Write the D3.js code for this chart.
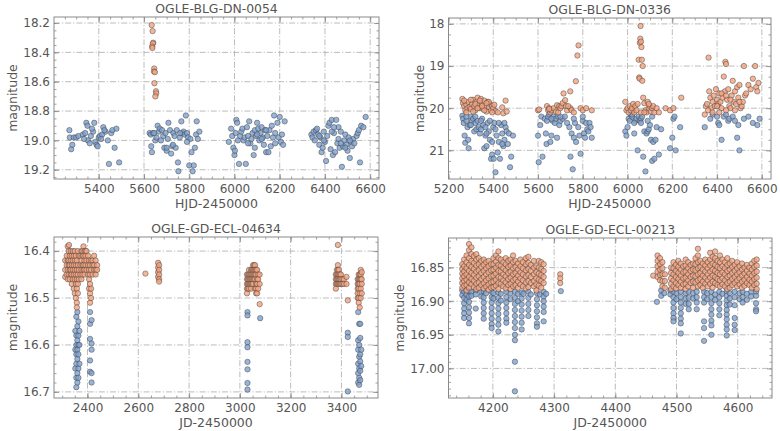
<!DOCTYPE html>
<html><head><meta charset="utf-8">
<script src="https://cdn.jsdelivr.net/npm/d3@7"></script>
<style>body{margin:0;background:#fff}svg{display:block}</style>
</head><body>
<svg id="c" width="780" height="431"></svg>
<script>
// ---------------- DATA ----------------
const titles = ["OGLE-BLG-DN-0054","OGLE-BLG-DN-0336","OGLE-GD-ECL-04634","OGLE-GD-ECL-00213"];
const xLabels = ["HJD-2450000","HJD-2450000","JD-2450000","JD-2450000"];
const yLabel = "magnitude";

const xTicks1 = [5400,5600,5800,6000,6200,6400,6600];
const yTicks1 = [18.2,18.4,18.6,18.8,19.0,19.2];
const xTicks2 = [5200,5400,5600,5800,6000,6200,6400,6600];
const yTicks2 = [18,19,20,21];
const xTicks3 = [2400,2600,2800,3000,3200,3400];
const yTicks3 = [16.4,16.5,16.6,16.7];
const xTicks4 = [4200,4300,4400,4500,4600];
const yTicks4 = [16.85,16.90,16.95,17.00];

const xDom1=[5202,6639], yDom1=[18.159,19.263];
const xDom2=[5200,6641], yDom2=[17.86,21.68];
const xDom3=[2268,3544], yDom3=[16.370,16.713];
const xDom4=[4127.5,4656], yDom4=[16.806,17.044];

// Panel 1 (OGLE-BLG-DN-0054)
const p1Orange = [[5634,18.214],[5638,18.255],[5641,18.334],[5639,18.34],[5636,18.36],[5637,18.37],[5645,18.51],[5644,18.53],[5648,18.535],[5646,18.61],[5653,18.665],[5654,18.68],[5650,18.70]];
const p1Blue = [
[5270,18.93],[5272,18.98],[5278,19.06],[5283,19.03],[5290,18.98],[5300,18.98],[5310,18.97],[5330,18.96],[5340,18.95],[5345,18.88],[5350,18.90],[5352,19.00],[5360,19.02],[5365,18.97],[5375,18.94],[5380,18.88],[5385,19.01],[5390,19.03],[5395,19.04],[5400,18.98],[5405,18.97],[5415,18.96],[5420,18.91],[5430,18.94],[5440,19.00],[5445,19.16],[5455,18.95],[5460,18.93],[5470,19.05],[5478,18.92],[5490,19.15],[5335,18.99],[5370,18.92],[5410,18.99],[5425,18.93],
[5625,18.95],[5630,18.96],[5632,19.04],[5635,19.08],[5640,18.95],[5650,19.00],[5655,18.98],[5660,18.90],[5665,18.94],[5670,18.92],[5675,19.00],[5680,18.93],[5685,18.97],[5690,19.05],[5695,18.95],[5700,19.07],[5705,18.99],[5708,18.88],[5715,18.93],[5720,19.09],[5725,19.04],[5730,18.95],[5735,18.97],[5740,19.05],[5745,18.93],[5750,19.15],[5752,19.21],[5758,18.98],[5765,18.87],[5770,18.95],[5775,18.94],[5780,18.96],[5785,18.83],[5790,18.95],[5795,18.98],[5800,19.17],[5805,18.99],[5810,19.08],[5815,19.21],[5820,19.17],[5825,19.05],[5830,18.96],[5833,18.87],[5838,18.99],[5845,18.94],[5700,19.05],[5728,19.03],[5760,18.95],[5790,19.01],[5645,18.95],
[5975,19.01],[5985,18.92],[5990,18.97],[5995,19.05],[6000,19.10],[6002,19.07],[6005,18.95],[6008,18.86],[6012,18.88],[6015,19.00],[6020,19.16],[6025,18.97],[6030,18.94],[6035,18.92],[6040,19.00],[6045,18.98],[6050,19.16],[6055,18.91],[6060,18.97],[6065,18.87],[6070,19.02],[6075,18.99],[6080,18.95],[6085,19.10],[6090,18.93],[6095,18.97],[6100,18.88],[6105,18.92],[6110,19.00],[6115,18.95],[6120,18.91],[6125,18.98],[6130,19.03],[6135,18.93],[6140,19.08],[6145,18.97],[6150,19.08],[6155,18.93],[6160,19.04],[6165,18.90],[6170,18.98],[6175,18.83],[6180,18.95],[6190,18.88],[6195,18.98],[6200,18.84],[6205,19.01],[6210,18.96],[6215,19.03],[6222,18.87],[6060,19.02],[6090,19.05],[6120,18.99],[6180,19.02],[6100,18.96],[6140,18.93],
[6340,18.96],[6345,18.98],[6350,18.94],[6355,19.00],[6360,18.93],[6365,18.92],[6370,18.96],[6375,19.03],[6380,18.98],[6385,19.08],[6390,19.05],[6395,18.94],[6400,19.01],[6405,19.14],[6410,18.97],[6415,18.90],[6420,18.88],[6425,19.06],[6430,18.86],[6435,19.10],[6440,18.95],[6445,19.08],[6450,18.86],[6455,19.02],[6460,18.91],[6465,19.05],[6470,18.94],[6475,19.18],[6480,19.04],[6485,19.00],[6490,18.96],[6495,19.03],[6500,19.07],[6505,18.98],[6510,19.12],[6515,19.01],[6520,19.04],[6525,18.99],[6530,19.02],[6540,18.97],[6545,18.95],[6550,18.93],[6555,19.15],[6560,18.90],[6570,18.91],[6580,18.84],[6375,18.97],[6395,19.00],[6430,18.94],[6460,18.99],[6490,19.05],[6510,19.00],[6440,18.91],[6470,19.02]];

// Panel 2 (OGLE-BLG-DN-0336)
const p2Orange = [
[5262,19.78],[5265,19.88],[5270,19.95],[5275,20.05],[5280,19.92],[5285,20.0],[5290,19.85],[5295,19.97],[5300,20.02],[5305,19.9],[5310,19.8],[5315,19.95],[5320,20.05],[5325,19.85],[5330,19.75],[5335,19.92],[5340,20.0],[5345,19.78],[5350,19.88],[5355,20.02],[5360,19.82],[5365,19.95],[5370,20.08],[5375,19.85],[5380,19.97],[5385,19.9],[5390,20.05],[5395,19.95],[5400,20.0],[5405,19.92],[5410,20.07],[5420,20.1],[5440,19.98],[5445,20.12],[5455,19.82],[5460,20.08],[5300,19.8],[5320,19.9],[5340,19.82],[5360,20.05],[5380,19.85],[5280,20.1],[5270,19.82],[5330,20.0],[5350,19.95],[5370,19.88],[5395,20.1],[5310,20.08],
[5600,20.05],[5605,20.03],[5640,19.95],[5645,20.05],[5650,20.0],[5655,20.1],[5660,20.05],[5670,20.0],[5680,20.08],[5685,19.93],[5690,20.1],[5695,19.95],[5700,20.0],[5705,19.95],[5710,19.88],[5714,19.65],[5721,19.81],[5725,19.95],[5730,20.05],[5744,19.6],[5745,20.0],[5750,20.05],[5769,19.36],[5776,18.75],[5781,18.51],[5790,20.0],[5800,20.05],[5815,20.0],[5840,20.05],[5650,20.02],[5735,19.95],[5760,20.1],
[5990,19.85],[5995,20.05],[6000,20.0],[6005,20.1],[6010,19.95],[6015,20.05],[6020,20.0],[6025,19.9],[6030,20.1],[6035,19.95],[6040,20.05],[6045,19.9],[6050,18.85],[6052,19.27],[6054,19.3],[6055,18.45],[6057,18.35],[6058,18.05],[6060,18.42],[6062,18.55],[6064,18.85],[6066,19.35],[6068,19.0],[6070,19.75],[6075,19.88],[6080,20.05],[6085,20.1],[6090,19.85],[6095,20.0],[6100,19.95],[6105,20.08],[6110,20.0],[6115,19.95],[6120,20.1],[6130,20.0],[6140,20.1],[6170,20.0],[6190,20.05],[6205,20.0],[6240,19.75],[6060,20.1],[6075,20.1],[6095,19.9],
[6345,20.15],[6350,19.95],[6355,19.9],[6362,18.8],[6365,19.6],[6370,19.75],[6375,20.0],[6380,19.85],[6385,19.7],[6390,19.95],[6395,19.55],[6400,19.8],[6405,19.9],[6410,19.65],[6415,19.85],[6420,20.0],[6425,19.75],[6430,19.25],[6435,19.6],[6437,18.9],[6440,18.95],[6445,19.8],[6450,19.55],[6455,19.95],[6460,20.0],[6465,19.7],[6470,19.35],[6475,19.85],[6480,19.6],[6485,19.9],[6490,19.5],[6495,19.75],[6500,19.45],[6505,20.0],[6510,19.95],[6515,19.85],[6520,19.0],[6525,19.7],[6530,19.65],[6540,19.45],[6550,19.55],[6560,19.3],[6570,19.0],[6575,19.5],[6580,19.6],[6585,19.4],[6360,20.05],[6380,20.1],[6400,19.95],[6420,19.65],[6440,20.05],[6460,19.8],[6480,20.05],[6500,19.85],[6440,19.7],[6410,20.1]];
const p2Blue = [
[5262,20.18],[5265,20.25],[5268,20.35],[5272,20.65],[5275,20.82],[5280,20.3],[5285,20.45],[5288,20.75],[5290,20.95],[5295,20.4],[5300,20.2],[5305,20.3],[5310,20.25],[5315,20.55],[5320,20.35],[5325,20.5],[5330,20.3],[5335,20.45],[5340,20.6],[5345,20.5],[5350,20.25],[5355,20.4],[5360,20.95],[5365,20.65],[5370,20.9],[5375,20.35],[5380,20.55],[5385,20.75],[5390,21.2],[5395,21.1],[5400,20.45],[5402,21.2],[5405,20.35],[5410,21.52],[5415,20.65],[5420,21.05],[5425,20.8],[5430,21.2],[5435,20.4],[5440,20.6],[5445,20.9],[5450,20.75],[5455,20.45],[5460,20.55],[5465,20.85],[5470,20.6],[5475,21.4],[5480,21.15],[5488,20.65],[5280,20.2],[5300,20.4],[5320,20.2],[5345,20.3],[5365,20.45],[5385,20.3],[5410,20.5],[5425,20.35],[5440,20.85],[5450,20.35],[5395,20.8],[5370,20.6],
[5600,20.65],[5603,21.28],[5610,20.4],[5615,20.2],[5620,21.15],[5630,20.25],[5635,20.6],[5638,20.85],[5640,20.3],[5645,20.2],[5650,20.15],[5655,20.8],[5660,20.65],[5665,20.3],[5670,20.2],[5675,20.35],[5680,20.25],[5685,20.7],[5690,20.2],[5695,20.4],[5700,20.3],[5710,20.25],[5720,20.2],[5730,20.35],[5740,20.45],[5745,21.15],[5750,20.6],[5755,21.45],[5760,20.7],[5765,20.35],[5770,20.8],[5780,20.45],[5785,20.65],[5790,21.08],[5800,20.3],[5805,20.6],[5810,20.7],[5815,20.35],[5820,20.5],[5825,20.55],[5830,20.35],[5835,20.45],[5840,20.7],[5660,20.25],[5700,20.2],[5760,20.25],[5800,20.2],
[5990,20.55],[5995,20.65],[6000,20.45],[6005,20.25],[6010,20.3],[6015,20.15],[6020,20.2],[6025,20.05],[6030,20.6],[6035,20.3],[6040,20.25],[6045,21.0],[6050,20.2],[6055,20.3],[6060,20.25],[6065,20.2],[6070,21.15],[6075,20.55],[6080,21.5],[6085,20.6],[6090,20.55],[6095,20.5],[6100,20.4],[6105,20.75],[6110,21.25],[6115,20.8],[6120,21.2],[6125,20.75],[6130,20.45],[6140,21.1],[6150,20.5],[6190,20.95],[6200,20.7],[6205,20.25],[6210,20.2],[6215,21.0],[6235,20.45],[6030,20.35],[6060,20.35],[6090,20.3],[6110,20.2],[6020,20.15],
[6345,20.45],[6370,20.25],[6380,20.15],[6400,20.2],[6405,20.35],[6410,20.4],[6420,20.75],[6430,20.2],[6440,20.15],[6450,20.3],[6455,20.25],[6470,20.2],[6480,20.3],[6490,20.7],[6495,20.4],[6500,21.0],[6520,20.25],[6540,20.2],[6560,20.35],[6580,20.4],[6590,20.25]];

// Panel 3 (OGLE-GD-ECL-04634): nightly columns [JD, [magnitudes]]
const p3Orange = [
[2312,[16.42,16.44,16.455]],[2318,[16.41,16.43,16.45]],[2322,[16.39,16.42,16.44,16.46]],[2326,[16.40,16.42,16.43,16.45]],[2327,[16.387]],
[2330,[16.41,16.43,16.44,16.46]],[2334,[16.40,16.42,16.44,16.45]],[2338,[16.41,16.43,16.45,16.47]],[2342,[16.40,16.42,16.44,16.46]],
[2346,[16.41,16.43,16.45,16.48]],[2350,[16.40,16.42,16.44,16.46,16.49]],[2354,[16.41,16.43,16.45,16.47,16.50]],
[2358,[16.42,16.44,16.46,16.48,16.51,16.52]],[2362,[16.40,16.43,16.45,16.47,16.49]],[2366,[16.41,16.44,16.46]],
[2372,[16.41,16.43,16.45]],[2376,[16.40,16.42,16.44,16.46]],[2380,[16.40,16.41,16.43,16.45]],[2384,[16.39,16.41,16.43,16.44]],
[2388,[16.40,16.42,16.44,16.45]],[2392,[16.40,16.41,16.43]],[2396,[16.40,16.42,16.44]],[2402,[16.41,16.43,16.45]],
[2406,[16.42,16.44,16.46,16.48]],[2410,[16.43,16.45,16.47,16.49,16.51]],[2414,[16.42,16.44,16.48,16.50]],[2420,[16.42,16.43,16.45]],
[2426,[16.41,16.43,16.44]],[2432,[16.42,16.44,16.45]],[2438,[16.43,16.44]],
[2628,[16.448]],[2678,[16.425,16.435,16.445,16.455]],[2682,[16.43,16.44,16.45,16.46,16.465]],
[3028,[16.45,16.46,16.47,16.48,16.49]],[3032,[16.45,16.46,16.47,16.48]],[3036,[16.44,16.45,16.46,16.47,16.48]],[3040,[16.45,16.46,16.47]],
[3044,[16.44,16.45,16.46,16.47,16.48]],[3048,[16.44,16.45,16.46,16.47]],[3052,[16.43,16.44,16.45,16.46,16.47]],[3056,[16.43,16.44,16.45,16.46]],
[3060,[16.43,16.44,16.45,16.46,16.48]],[3064,[16.44,16.45,16.47,16.48,16.49]],[3068,[16.44,16.46,16.47,16.49]],[3072,[16.45,16.46,16.48]],[3078,[16.45,16.47,16.513]],
[3378,[16.45,16.46,16.47,16.48]],[3382,[16.44,16.45,16.46,16.47]],[3386,[16.387,16.43,16.44,16.45,16.46,16.47]],[3390,[16.44,16.45,16.46,16.47]],
[3394,[16.45,16.46,16.47]],[3398,[16.45,16.46,16.47]],[3404,[16.46,16.47]],[3410,[16.46,16.47]],[3420,[16.455,16.47]],[3425,[16.505]],
[3464,[16.46,16.47,16.48,16.49,16.50]],[3468,[16.45,16.46,16.47,16.48,16.50,16.51]],[3472,[16.45,16.46,16.47,16.49,16.52]],
[3476,[16.44,16.45,16.46,16.48,16.50]],[3480,[16.445,16.46,16.47,16.49]]];
const p3Blue = [
[2352,[16.57,16.61,16.65]],[2356,[16.54,16.58,16.60,16.62,16.64,16.67,16.69]],[2360,[16.53,16.56,16.59,16.61,16.63,16.66,16.68]],
[2364,[16.55,16.58,16.60,16.62,16.65,16.67]],[2368,[16.57,16.60,16.64]],
[2410,[16.53,16.555,16.587,16.633,16.657]],[2416,[16.547,16.597,16.61,16.66,16.68]],
[3030,[16.53,16.537,16.594,16.605,16.636,16.652,16.681,16.695]],[3080,[16.543]],
[3425,[16.574,16.583,16.699]],
[3466,[16.53,16.59,16.61,16.64,16.66,16.68]],[3470,[16.555,16.60,16.625,16.65,16.67,16.685]],
[3474,[16.555,16.585,16.62,16.635,16.655,16.675]],[3478,[16.61,16.645]]];

// Panel 4 (OGLE-GD-ECL-00213): nightly columns [JD, [magnitudes]]
const p4Orange = [
[4150,[16.845,16.852,16.859,16.866,16.873,16.880]],[4153,[16.838,16.848,16.856,16.863,16.870,16.877]],
[4157,[16.832,16.842,16.851,16.860,16.868,16.876,16.884]],[4161,[16.815,16.824,16.836,16.846,16.855,16.864,16.872,16.880]],
[4165,[16.820,16.830,16.840,16.849,16.858,16.867,16.875]],[4169,[16.833,16.843,16.852,16.861,16.870,16.879]],
[4173,[16.830,16.838,16.847,16.856,16.865,16.874,16.882]],[4177,[16.836,16.845,16.854,16.863,16.872,16.880]],
[4181,[16.840,16.849,16.858,16.867,16.876]],[4185,[16.838,16.846,16.855,16.864,16.873,16.881]],
[4189,[16.842,16.851,16.860,16.869,16.878]],[4193,[16.840,16.848,16.857,16.866,16.875,16.883]],
[4197,[16.845,16.854,16.863,16.872,16.880]],[4201,[16.836,16.845,16.853,16.862,16.871,16.879]],
[4205,[16.832,16.841,16.850,16.859,16.868,16.877]],[4209,[16.826,16.836,16.846,16.855,16.864,16.873,16.882]],
[4213,[16.838,16.847,16.856,16.865,16.874]],[4217,[16.842,16.851,16.860,16.869,16.878]],
[4221,[16.836,16.845,16.854,16.863,16.872,16.881]],[4225,[16.840,16.849,16.858,16.867,16.876]],
[4229,[16.838,16.847,16.856,16.865,16.874,16.882]],[4233,[16.832,16.842,16.851,16.860,16.869,16.878]],
[4237,[16.840,16.849,16.858,16.867,16.876]],[4241,[16.844,16.853,16.862,16.871,16.880]],
[4245,[16.838,16.848,16.857,16.866,16.875]],[4249,[16.842,16.851,16.860,16.869,16.878]],
[4254,[16.836,16.845,16.854,16.863,16.872,16.881]],[4258,[16.834,16.843,16.852,16.861,16.870,16.879]],
[4262,[16.846,16.855,16.864,16.873]],[4267,[16.840,16.850,16.860,16.870,16.878]],
[4271,[16.848,16.857,16.866,16.875,16.884]],[4275,[16.840,16.850,16.859,16.868,16.877]],
[4279,[16.842,16.852,16.861,16.870,16.880]],[4283,[16.845,16.855,16.864,16.873]],
[4310,[16.860,16.866,16.873]],
[4462,[16.862]],[4469,[16.832,16.840,16.848,16.856,16.864]],[4473,[16.836,16.845,16.853,16.861,16.869]],
[4477,[16.842,16.851,16.860,16.870,16.878]],[4481,[16.860,16.870,16.880]],[4491,[16.850,16.858,16.866,16.874,16.882]],
[4495,[16.842,16.851,16.860,16.869,16.878]],[4499,[16.846,16.855,16.864,16.873,16.881]],[4503,[16.840,16.849,16.858,16.867,16.876]],
[4507,[16.844,16.853,16.862,16.871,16.880]],[4511,[16.848,16.857,16.866,16.875]],[4515,[16.838,16.847,16.856,16.865,16.874,16.882]],
[4519,[16.842,16.851,16.860,16.869,16.878]],[4523,[16.846,16.855,16.864,16.873]],[4527,[16.844,16.853,16.862,16.871,16.880]],
[4531,[16.836,16.845,16.854,16.863,16.872]],[4535,[16.822,16.832,16.842,16.851,16.860,16.869,16.878]],
[4539,[16.840,16.849,16.858,16.867,16.876]],[4543,[16.844,16.853,16.862,16.871,16.880]],[4547,[16.838,16.847,16.856,16.865,16.874]],
[4551,[16.842,16.851,16.860,16.869,16.878]],[4555,[16.828,16.838,16.847,16.856,16.865,16.874]],
[4559,[16.834,16.844,16.853,16.862,16.871,16.880]],[4563,[16.826,16.836,16.846,16.855,16.864,16.873]],
[4567,[16.840,16.849,16.858,16.867,16.876]],[4571,[16.832,16.842,16.851,16.860,16.869,16.878]],
[4575,[16.838,16.848,16.857,16.866,16.875]],[4579,[16.842,16.851,16.860,16.869,16.878]],
[4583,[16.836,16.846,16.855,16.864,16.873,16.882]],[4587,[16.844,16.853,16.862,16.871,16.880]],
[4591,[16.840,16.849,16.858,16.867,16.876]],[4595,[16.846,16.855,16.864,16.873]],[4599,[16.842,16.851,16.860,16.869,16.878]],
[4603,[16.848,16.857,16.866,16.875]],[4607,[16.844,16.853,16.862,16.871,16.880]],[4611,[16.850,16.859,16.868,16.877]],
[4615,[16.846,16.855,16.864,16.873]],[4619,[16.850,16.859,16.868,16.876]],[4623,[16.844,16.853,16.862,16.871,16.880]],
[4627,[16.840,16.849,16.858,16.867,16.876]],[4631,[16.838,16.847,16.856,16.865,16.874,16.882]]];
const p4Blue = [
[4150,[16.884,16.891]],[4153,[16.886,16.895,16.903,16.911,16.918,16.925]],[4157,[16.884,16.890,16.898]],
[4161,[16.885,16.893,16.901,16.909,16.917,16.925,16.933]],[4165,[16.886,16.892]],[4172,[16.884,16.890,16.911]],
[4181,[16.886,16.893]],[4185,[16.885,16.894,16.902,16.910,16.918,16.926]],[4189,[16.888]],
[4198,[16.886,16.894,16.902,16.910,16.918,16.926,16.934,16.940]],[4201,[16.888,16.896]],
[4209,[16.887,16.895,16.903,16.911,16.919,16.927,16.935,16.945]],[4213,[16.889,16.899]],
[4222,[16.886,16.894,16.902,16.910,16.918,16.926,16.932]],[4229,[16.888,16.897]],
[4236,[16.886,16.895,16.904,16.913,16.922,16.931,16.940,16.950,16.958,16.990,17.034]],[4241,[16.889,16.900]],
[4247,[16.887,16.896,16.905,16.914,16.923,16.932,16.942]],[4250,[16.889]],
[4258,[16.886,16.895,16.904,16.913,16.922]],[4262,[16.890]],
[4272,[16.888,16.897,16.906,16.915,16.924,16.933,16.938]],[4277,[16.890]],
[4283,[16.886,16.893,16.900,16.908,16.916,16.930]],[4287,[16.889]],[4311,[16.885]],
[4468,[16.901]],[4475,[16.884,16.892]],[4480,[16.888]],[4490,[16.884,16.890]],
[4495,[16.886,16.894,16.902,16.910,16.918,16.925,16.930]],[4500,[16.888,16.897]],
[4507,[16.886,16.894,16.902,16.910,16.918,16.926,16.933,16.948]],[4515,[16.888,16.896,16.904]],
[4520,[16.886,16.895,16.904,16.912]],[4527,[16.888,16.896]],[4533,[16.886,16.894,16.902,16.912]],
[4545,[16.886,16.894,16.902,16.930,16.940,16.959]],[4550,[16.888,16.897]],
[4557,[16.886,16.894,16.903,16.912,16.920,16.929,16.936,16.950]],[4563,[16.890,16.898]],
[4570,[16.886,16.894,16.903,16.912,16.921]],[4575,[16.889]],
[4582,[16.885,16.892,16.899,16.906,16.913,16.920,16.927,16.935,16.942,16.951]],[4587,[16.888,16.896,16.905]],
[4595,[16.886,16.894,16.906,16.925,16.935,16.943]],[4603,[16.888,16.897]],[4608,[16.886,16.894,16.902]],
[4615,[16.889,16.898]],[4622,[16.886,16.893]],[4630,[16.886,16.892,16.903,16.912,16.915]]];

// ---------------- DRAW ----------------
const cols = arr => arr.flatMap(([x, ys]) => ys.map(y => [x, y]));
const FONT = "DejaVu Sans", TXT = "#555", FRAME = "#8a8a8a";
const BLUE = "#7ea1cf", ORANGE = "#f5a27e";

const panels = [
  {box:[54,17,379,179], xd:xDom1, yd:yDom1, xt:xTicks1, xm:50, yt:yTicks1, ym:0.05, yf:".1f", ylx:12.5, blue:p1Blue, orange:p1Orange},
  {box:[448.5,18,771,179], xd:xDom2, yd:yDom2, xt:xTicks2, xm:50, yt:yTicks2, ym:0.25, yf:"d", ylx:419.5, blue:p2Blue, orange:p2Orange},
  {box:[54,237,378,398], xd:xDom3, yd:yDom3, xt:xTicks3, xm:50, yt:yTicks3, ym:0.02, yf:".1f", ylx:12.5, blue:cols(p3Blue), orange:cols(p3Orange)},
  {box:[448.5,238,772,398], xd:xDom4, yd:yDom4, xt:xTicks4, xm:20, yt:yTicks4, ym:0.01, yf:".2f", ylx:400, blue:cols(p4Blue), orange:cols(p4Orange)}
];

const svg = d3.select("#c");
function minors(dom, step){
  const lo=Math.min(...dom), hi=Math.max(...dom), out=[];
  for(let k=Math.ceil(lo/step); k*step<=hi; k++) out.push(+(k*step).toFixed(6));
  return out;
}

panels.forEach((p,i)=>{
  const [x0,y0,x1,y1]=p.box;
  const x=d3.scaleLinear().domain(p.xd).range([x0,x1]);
  const y=d3.scaleLinear().domain(p.yd).range([y0,y1]);
  const g=svg.append("g");
  const clipId="clip"+i;
  svg.append("clipPath").attr("id",clipId).append("rect").attr("x",x0).attr("y",y0).attr("width",x1-x0).attr("height",y1-y0);

  // grid
  const grid=g.append("g").attr("stroke","#b4b4b4").attr("stroke-width",0.9).attr("stroke-dasharray","6,2,1.2,2").attr("fill","none");
  p.xt.forEach(v=>{ if(x(v)>x0+0.5&&x(v)<x1-0.5) grid.append("line").attr("x1",x(v)).attr("x2",x(v)).attr("y1",y0).attr("y2",y1);});
  p.yt.forEach(v=>{ if(y(v)>y0+0.5&&y(v)<y1-0.5) grid.append("line").attr("y1",y(v)).attr("y2",y(v)).attr("x1",x0).attr("x2",x1);});

  // points
  const pts=g.append("g").attr("clip-path",`url(#${clipId})`);
  [[p.blue,BLUE],[p.orange,ORANGE]].forEach(([data,col])=>{
    pts.append("g").selectAll("circle").data(data).join("circle")
      .attr("cx",d=>x(d[0])).attr("cy",d=>y(d[1])).attr("r",2.7)
      .attr("fill",col).attr("fill-opacity",0.8)
      .attr("stroke","#3a3a3a").attr("stroke-opacity",0.7).attr("stroke-width",0.65);
  });

  // axes
  const style=a=>{a.select(".domain").remove(); a.selectAll("line").attr("stroke",FRAME).attr("stroke-width",0.8);
    a.selectAll("text").attr("fill",TXT).attr("font-family",FONT).attr("font-size",12);};
  const xmin=minors(p.xd,p.xm), ymin=minors(p.yd,p.ym);
  g.append("g").attr("transform",`translate(0,${y1})`).call(d3.axisBottom(x).tickValues(p.xt).tickSize(-5).tickPadding(5).tickFormat(d3.format("d"))).call(style);
  g.append("g").attr("transform",`translate(0,${y1})`).call(d3.axisBottom(x).tickValues(xmin).tickSize(-2.5).tickFormat("")).call(style);
  g.append("g").attr("transform",`translate(0,${y0})`).call(d3.axisTop(x).tickValues(p.xt).tickSize(-5).tickFormat("")).call(style);
  g.append("g").attr("transform",`translate(0,${y0})`).call(d3.axisTop(x).tickValues(xmin).tickSize(-2.5).tickFormat("")).call(style);
  g.append("g").attr("transform",`translate(${x0},0)`).call(d3.axisLeft(y).tickValues(p.yt).tickSize(-5).tickPadding(4).tickFormat(d3.format(p.yf))).call(style);
  g.append("g").attr("transform",`translate(${x0},0)`).call(d3.axisLeft(y).tickValues(ymin).tickSize(-2.5).tickFormat("")).call(style);
  g.append("g").attr("transform",`translate(${x1},0)`).call(d3.axisRight(y).tickValues(p.yt).tickSize(-5).tickFormat("")).call(style);
  g.append("g").attr("transform",`translate(${x1},0)`).call(d3.axisRight(y).tickValues(ymin).tickSize(-2.5).tickFormat("")).call(style);

  // frame
  g.append("rect").attr("x",x0).attr("y",y0).attr("width",x1-x0).attr("height",y1-y0)
    .attr("fill","none").attr("stroke",FRAME).attr("stroke-width",1);

  // labels
  const cx=(x0+x1)/2;
  g.append("text").attr("x",cx).attr("y",y0-4).attr("text-anchor","middle")
    .attr("font-family",FONT).attr("font-size",12.4).attr("fill",TXT).text(titles[i]);
  g.append("text").attr("x",cx).attr("y",y1+29).attr("text-anchor","middle")
    .attr("font-family",FONT).attr("font-size",12.5).attr("fill",TXT).text(xLabels[i]);
  g.append("text").attr("transform",`translate(${p.ylx},${(y0+y1)/2}) rotate(-90)`).attr("dy","0.35em")
    .attr("text-anchor","middle").attr("font-family",FONT).attr("font-size",12.5).attr("fill",TXT).text(yLabel);
});
</script>
</body></html>
